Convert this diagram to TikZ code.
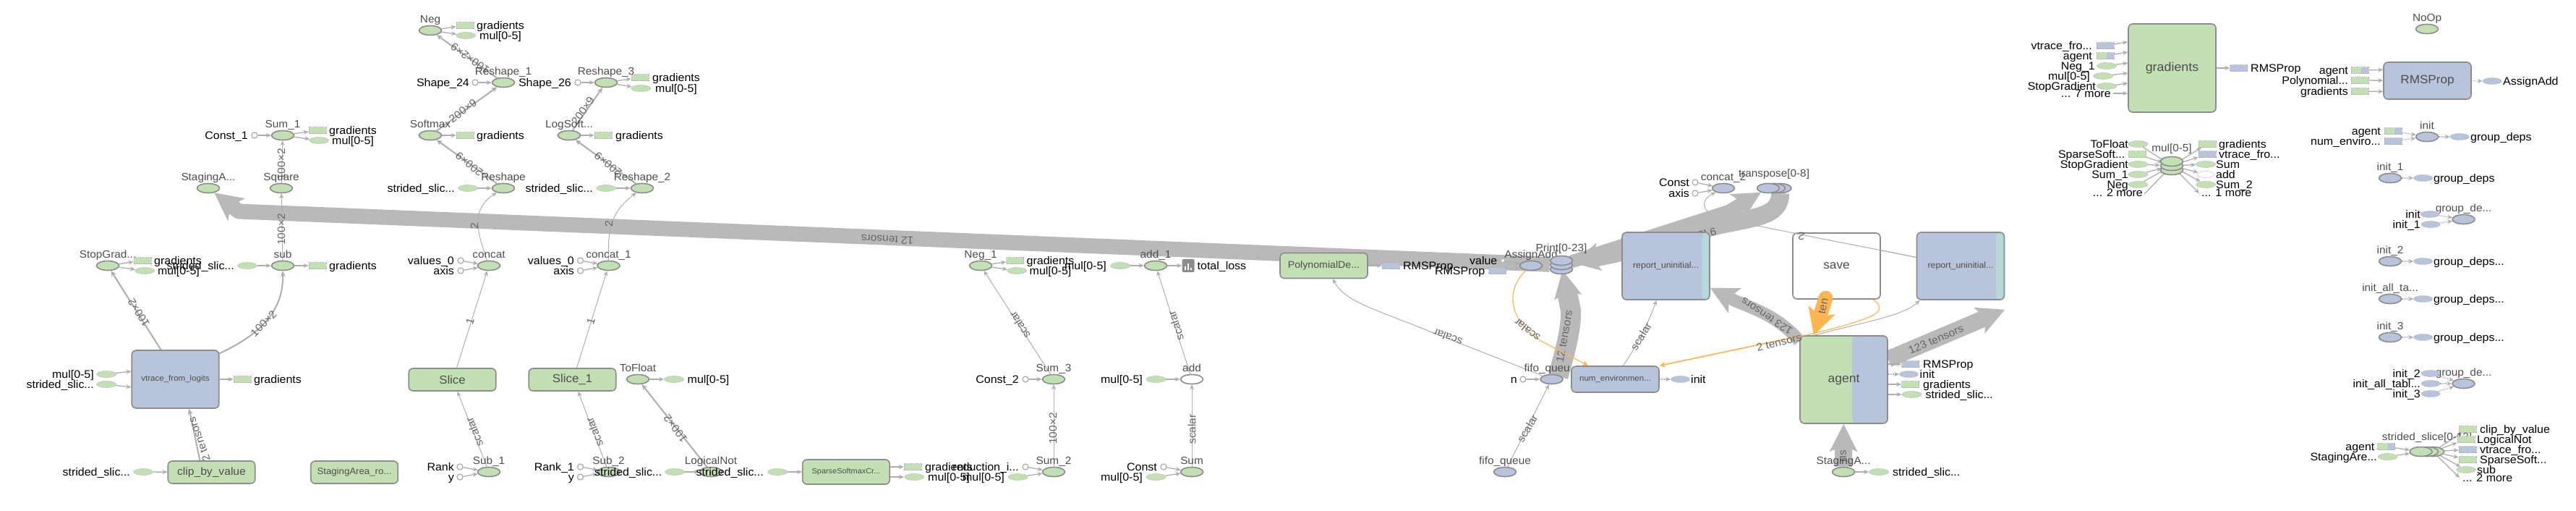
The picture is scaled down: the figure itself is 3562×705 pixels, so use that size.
\documentclass[tikz,border=0pt]{standalone}
\usepackage{fontspec}
\setmainfont[FakeStretch=1.05]{Liberation Sans}
\usetikzlibrary{arrows.meta,shapes.geometric,calc}
\definecolor{opgreen}{HTML}{C2E0B4}
\definecolor{opblue}{HTML}{B8C3DC}
\definecolor{opteal}{HTML}{B7D8D6}
\definecolor{opline}{HTML}{8C8C8C}
\definecolor{flowgray}{HTML}{AEAEAE}
\definecolor{bandgray}{HTML}{B9B9B9}
\definecolor{refedge}{HTML}{FFB652}
\definecolor{optext}{HTML}{4D4D4D}
\definecolor{edgetext}{HTML}{666666}
\pgfdeclarelayer{edges}
\pgfsetlayers{edges,main}
\tikzset{
    px font/.style={font=\fontsize{#1pt}{#1pt}\selectfont},
    op base/.style={ellipse, draw=opline, line width=1.6pt, inner sep=0pt, minimum width=31pt, minimum height=13pt},
    op green/.style={op base, fill=opgreen},
    op blue/.style={op base, fill=opblue},
    op white/.style={op base, fill=white},
    op text/.style={anchor=base, inner sep=0pt, text=optext, px font=14.6},
    ann text/.style={inner sep=0pt, text=black, px font=15.2},
    edge text/.style={inner sep=0pt, text=edgetext, px font=14.8},
    ann ell/.style={ellipse, draw=flowgray, densely dotted, line width=.8pt, fill=opgreen, inner sep=0pt, minimum width=27pt, minimum height=9pt},
    ann blue ell/.style={ann ell, fill=opblue, minimum width=26pt},
    ann white ell/.style={ann ell, fill=white, minimum width=24pt},
    ann rect/.style={rectangle, draw=flowgray, densely dotted, line width=.8pt, fill=opgreen, inner sep=0pt, minimum width=24pt, minimum height=9pt},
    ann blue rect/.style={ann rect, fill=opblue},
    ann half rect/.style={ann rect, strip={opblue}{10pt}},
    const dot/.style={circle, draw=flowgray, line width=1.3pt, fill=white, inner sep=0pt, minimum size=8pt},
    meta box/.style 2 args={rectangle, rounded corners=6pt, draw=opline, line width=1.6pt, inner sep=0pt, text=optext, minimum width=#1pt, minimum height=#2pt},
    strip/.style 2 args={path picture={\fill[#1]([xshift=-#2]path picture bounding box.north east)rectangle(path picture bounding box.south east);}},
    flow/.style={draw=flowgray, line width=1pt, ->, >={Stealth[length=7pt,width=6pt]}},
    flow mid/.style={flow, line width=2pt, >={Stealth[length=8pt,width=7pt]}},
    flow ann/.style={flow, line width=1.3pt},
    flow dot/.style={flow, line width=1.2pt, densely dotted, >={Stealth[length=7pt,width=6pt]}},
    band/.style={draw=bandgray, line width=#1, line join=round, -{Stealth[length=38pt,width=38pt,inset=9pt]}},
    ref line/.style={draw=refedge, line width=#1, ->, >={Stealth[length=8pt,width=8pt]}}
}
\newcommand{\OpAt}[5][op green]{%
\node[#1](#2)at(#3,#4){};
\node[op text](#2 t)at(#3,#4-11){#5};
}
\newcommand{\AnnOut}[6][ann ell]{%
\node[#1](#2)at(#3,#4){};
\node[ann text,anchor=base west](#2 t)at(#5,#4+5){#6};
}
\newcommand{\AnnIn}[6][ann ell]{%
\node[#1](#2)at(#3,#4){};
\node[ann text,anchor=base east](#2 t)at(#5,#4+5){#6};
}
\newcommand{\EdgeText}[5]{%
\node[edge text,rotate=#4](#1)at(#2,#3){#5};
}
\begin{document}
\begin{tikzpicture}[x=1pt,y=-1pt]
    \useasboundingbox(0,0)rectangle(3562,705);

    % upper left column
    \OpAt{neg}{595}{42}{Neg}
    \AnnOut[ann rect]{negG}{643}{35}{659}{gradients}
    \AnnOut{negM}{644}{49}{663}{mul[0-5]}
    \OpAt{reshapeA}{696}{114}{Reshape\_1}
    \AnnIn[const dot]{shapeA}{657}{114}{649}{Shape\_24}
    \OpAt{reshapeC}{838}{114}{Reshape\_3}
    \AnnIn[const dot]{shapeC}{799}{114}{790}{Shape\_26}
    \AnnOut[ann rect]{reshCG}{885}{107}{902}{gradients}
    \AnnOut{reshCM}{886}{122}{906}{mul[0-5]}
    \OpAt{softmax}{595}{187}{Softmax}
    \AnnOut[ann rect]{softG}{643}{187}{659}{gradients}
    \OpAt{logsoft}{787}{187}{LogSoft...}
    \AnnOut[ann rect]{logG}{834}{187}{851}{gradients}
    \OpAt{sumB}{391}{187}{Sum\_1}
    \AnnIn[const dot]{constB}{352}{187}{343}{Const\_1}
    \AnnOut[ann rect]{sumBG}{439}{180}{455}{gradients}
    \AnnOut{sumBM}{441}{194}{459}{mul[0-5]}
    \OpAt{stagingA}{288}{260}{StagingA...}
    \OpAt{square}{389}{260}{Square}
    \OpAt{reshapeZ}{696}{260}{Reshape}
    \AnnIn{reshZS}{647}{260}{629}{strided\_slic...}
    \OpAt{reshapeB}{888}{260}{Reshape\_2}
    \AnnIn{reshBS}{838}{260}{820}{strided\_slic...}

    % middle row
    \OpAt{stopgrad}{149}{367}{StopGrad...}
    \AnnOut[ann rect]{stopG}{197}{360}{213}{gradients}
    \AnnOut{stopM}{200}{374}{218}{mul[0-5]}
    \OpAt{sub}{391}{367}{sub}
    \AnnIn{subS}{342}{367}{324}{strided\_slic...}
    \AnnOut[ann rect]{subG}{439}{367}{455}{gradients}
    \OpAt{concatZ}{676}{367}{concat}
    \AnnIn[const dot]{valZ}{637}{360}{628}{values\_0}
    \AnnIn[const dot]{axisZ}{637}{374}{628}{axis}
    \OpAt{concatA}{841.5}{367}{concat\_1}
    \AnnIn[const dot]{valA}{802.5}{360}{794}{values\_0}
    \AnnIn[const dot]{axisA}{802.5}{374}{794}{axis}
    \OpAt{negA}{1356}{367}{Neg\_1}
    \AnnOut[ann rect]{negAG}{1403.5}{360}{1419.5}{gradients}
    \AnnOut{negAM}{1406}{374}{1423.5}{mul[0-5]}
    \OpAt{addA}{1598}{367}{add\_1}
    \AnnIn{addAM}{1549}{367}{1530}{mul[0-5]}
    \node[rectangle,rounded corners=2pt,fill=opline,minimum width=17pt,minimum height=18pt,inner sep=0pt](lossIcon)at(1643,367){};
    \foreach \barx/\barh in {-4/5,0/9,4/3}
        \fill[white]($(lossIcon)+(\barx-1,6)$)rectangle($(lossIcon)+(\barx+1,6-\barh)$);
    \node[ann text,anchor=base west](lossIcon t)at(1655.5,372){total\_loss};

    % boxes of the left half
    \node[meta box={120.5}{80},fill=opblue,px font=11](vtrace)at(242.5,524){vtrace\_from\_logits};
    \AnnIn{vtM}{147}{517}{130}{mul[0-5]}
    \AnnIn{vtS}{147}{531}{130}{strided\_slic...}
    \AnnOut[ann rect]{vtG}{335}{524}{351}{gradients}
    \node[meta box={120.5}{31},fill=opgreen,px font=14.9](clip)at(292.5,652.5){clip\_by\_value};
    \AnnIn{clipS}{198}{652}{180}{strided\_slic...}
    \node[meta box={120.5}{31},fill=opgreen,px font=12.6](stagingRo)at(490,652.5){StagingArea\_ro...};
    \node[meta box={120.5}{31},fill=opgreen,px font=16](slice)at(625.5,524.5){Slice};
    \node[meta box={120.5}{31},fill=opgreen,px font=16](sliceA)at(791.5,524.5){Slice\_1};
    \OpAt{tofloat}{882}{524}{ToFloat}
    \AnnOut{tofloatM}{932}{524}{950.5}{mul[0-5]}
    \OpAt{subB}{676}{652}{Sub\_1}
    \AnnIn[const dot]{rankZ}{636}{645}{628}{Rank}
    \AnnIn[const dot]{yZ}{636}{659}{628}{y}
    \OpAt{subC}{841.5}{652}{Sub\_2}
    \AnnIn[const dot]{rankA}{802.5}{645}{794}{Rank\_1}
    \AnnIn[const dot]{yA}{802.5}{659}{794}{y}
    \OpAt{lognot}{983}{652}{LogicalNot}
    \AnnIn{lognotS}{933}{652}{915.5}{strided\_slic...}
    \AnnIn{sparseS}{1075}{652}{1056}{strided\_slic...}
    \node[meta box={120.5}{34},fill=opgreen,px font=10.4](sparse)at(1170,652){SparseSoftmaxCr...};
    \AnnOut[ann rect]{sparseG}{1262}{645}{1279}{gradients}
    \AnnOut{sparseM}{1264}{659}{1283}{mul[0-5]}
    \OpAt{sumC}{1457}{652}{Sum\_2}
    \AnnIn[const dot]{reduct}{1418}{645}{1409}{reduction\_i...}
    \AnnIn{sumCM}{1407.5}{659}{1389}{mul[0-5]}
    \OpAt{sumZ}{1648}{652}{Sum}
    \AnnIn[const dot]{constZ}{1609}{645}{1600}{Const}
    \AnnIn{sumZM}{1598.5}{659}{1580}{mul[0-5]}
    \OpAt{sumD}{1457}{524}{Sum\_3}
    \AnnIn[const dot]{constC}{1418}{524}{1409}{Const\_2}
    \OpAt[op white]{addZ}{1648}{524}{add}
    \AnnIn{addZM}{1598.5}{524}{1580}{mul[0-5]}

    % middle of the picture
    \node[meta box={121}{35},fill=opgreen,px font=13.5](poly)at(1830.5,367){PolynomialDe...};
    \AnnOut[ann blue rect]{polyR}{1923}{367}{1940}{RMSProp}
    \AnnIn[const dot,minimum size=5pt,line width=.6pt]{valueC}{2078}{360}{2070.5}{value}
    \OpAt[op blue]{assign}{2117}{367}{AssignAdd}
    \AnnIn[ann blue rect]{assignR}{2070.5}{374}{2053.5}{RMSProp}
    \node[op blue](printC)at(2159,372){};
    \node[op blue](printS)at(2159,366){};
    \node[op blue](printA)at(2159,360){};
    \node[op text](printS t)at(2159,347){Print[0-23]};
    \OpAt[op blue]{fifoQ}{2145.5}{524}{fifo\_queu...}
    \AnnIn[const dot]{nConst}{2106}{524}{2098}{n}
    \OpAt[op blue]{fifoZ}{2081}{652}{fifo\_queue}
    \node[meta box={121}{36},fill=opblue,px font=11](num)at(2233.5,524){num\_environmen...};
    \AnnOut[ann blue ell]{numI}{2323.5}{524}{2338}{init}
    \node[meta box={121}{93},fill=opblue,strip={opteal}{10.5pt},px font=11.7](reportA)at(2303.5,367.5){report\_uninitial...};
    \node[meta box={121}{93},fill=opblue,strip={opteal}{11.5pt},px font=11.7](reportB)at(2711,367.5){report\_uninitial...};
    \node[meta box={121}{91},fill=white,px font=16.4](save)at(2539.5,367.5){save};
    \node[meta box={121}{121},fill=opgreen,strip={opblue}{49pt},px font=16.7](agent)at(2549.5,524.5){agent};
    \OpAt[op blue]{concatB}{2383}{260}{concat\_2}
    \AnnIn[const dot]{constD}{2344}{252}{2336}{Const}
    \AnnIn[const dot]{axisB}{2344}{267}{2336}{axis}
    \node[op blue](transC)at(2461.5,260){};
    \node[op blue](transB)at(2453,260){};
    \node[op blue](transA)at(2445,260){};
    \node[op text](transA t)at(2453,244){transpose[0-8]};
    \OpAt{stagingB}{2549}{652}{StagingA...}
    \AnnOut{stagingS}{2598}{652}{2617}{strided\_slic...}
    \AnnOut[ann blue rect]{agentR}{2641.5}{503}{2659}{RMSProp}
    \AnnOut[ann blue ell]{agentI}{2639.5}{517}{2654.5}{init}
    \AnnOut[ann rect]{agentG}{2641.5}{531}{2659}{gradients}
    \AnnOut{agentS}{2643.5}{545}{2662.5}{strided\_slic...}

    % auxiliary column
    \node[meta box={121}{122},fill=opgreen,px font=17](gradBox)at(3003.5,94){gradients};
    \AnnIn[ann blue rect]{gradV}{2911}{63}{2893}{vtrace\_fro...}
    \AnnIn[ann half rect]{gradA}{2911}{77}{2893}{agent}
    \AnnIn{gradN}{2913}{91}{2897}{Neg\_1}
    \AnnIn{gradM}{2908}{105}{2890}{mul[0-5]}
    \AnnIn{gradS}{2913}{119}{2898}{StopGradient}
    \node[ann text,anchor=base east](gradMore)at(2919,134){... 7 more};
    \coordinate(gradMoreC)at(2922,129);
    \AnnOut[ann blue rect]{gradR}{3095.5}{94}{3112}{RMSProp}
    \node[meta box={121}{51},fill=opblue,px font=16.3](rmsBox)at(3356.5,111.5){RMSProp};
    \AnnIn[ann half rect]{rmsA}{3263}{97}{3247}{agent}
    \AnnIn[ann rect]{rmsP}{3263}{111}{3247}{Polynomial...}
    \AnnIn[ann rect]{rmsG}{3263}{126}{3247}{gradients}
    \AnnOut[ann blue ell]{rmsO}{3446}{112}{3461}{AssignAdd}
    \OpAt{noop}{3356}{40}{NoOp}
    \OpAt[op blue]{initZ}{3356}{189}{init}
    \AnnIn[ann half rect]{initA}{3309}{181}{3292}{agent}
    \AnnIn[ann blue rect]{initN}{3309}{195}{3292}{num\_enviro...}
    \AnnOut[ann blue ell]{initG}{3401}{189}{3416}{group\_deps}
    \OpAt[op blue]{initB}{3305}{246}{init\_1}
    \AnnOut[ann blue ell]{initBG}{3350.5}{246}{3365}{group\_deps}
    \OpAt[op blue]{groupA}{3406.5}{303}{group\_de...}
    \AnnIn[ann blue ell]{groupAI}{3360}{296}{3347}{init}
    \AnnIn[ann blue ell]{groupAJ}{3361}{310}{3347}{init\_1}
    \OpAt[op blue]{initC}{3305}{361}{init\_2}
    \AnnOut[ann blue ell]{initCG}{3350.5}{361}{3365}{group\_deps...}
    \OpAt[op blue]{initT}{3305}{413}{init\_all\_ta...}
    \AnnOut[ann blue ell]{initTG}{3350.5}{413}{3365}{group\_deps...}
    \OpAt[op blue]{initD}{3305}{466}{init\_3}
    \AnnOut[ann blue ell]{initDG}{3350.5}{466}{3365}{group\_deps...}
    \OpAt[op blue]{groupB}{3406.5}{530}{group\_de...}
    \AnnIn[ann blue ell]{groupBI}{3361}{516}{3347}{init\_2}
    \AnnIn[ann blue ell]{groupBT}{3361}{530}{3347}{init\_all\_tabl...}
    \AnnIn[ann blue ell]{groupBJ}{3361}{544}{3347}{init\_3}

    % mul cluster
    \node[op green](mulC)at(3003,235){};
    \node[op green](mulS)at(3003,229){};
    \node[op green](mulA)at(3003,223){};
    \node[op text](mulS t)at(3003,209){mul[0-5]};
    \AnnIn{mulT}{2956.5}{199}{2943}{ToFloat}
    \AnnIn[ann rect]{mulP}{2955.5}{213}{2938.5}{SparseSoft...}
    \AnnIn{mulO}{2956.5}{227}{2943}{StopGradient}
    \AnnIn{mulU}{2956.5}{241}{2943}{Sum\_1}
    \AnnIn{mulN}{2956.5}{255}{2943}{Neg}
    \node[ann text,anchor=base east](mulMoreL)at(2963,271){... 2 more};
    \coordinate(mulMoreLC)at(2965,268);
    \AnnOut[ann rect]{mulG}{3052}{199}{3068}{gradients}
    \AnnOut[ann blue rect]{mulV}{3052}{213}{3068}{vtrace\_fro...}
    \AnnOut{mulS2}{3050}{227}{3064}{Sum}
    \AnnOut[ann white ell]{mulD}{3050}{241}{3064}{add}
    \AnnOut{mulW}{3050}{255}{3064}{Sum\_2}
    \node[ann text,anchor=base west](mulMoreR)at(3044,271){... 1 more};
    \coordinate(mulMoreRC)at(3041,267);

    % strided slice cluster
    \node[op green](sliceC)at(3364,624){};
    \node[op green](sliceB)at(3356,624){};
    \node[op green](sliceF)at(3347.5,624){};
    \node[op text](sliceF t)at(3356,608){strided\_slice[0-12]};
    \AnnIn[ann half rect]{sliceI}{3299.5}{617}{3283.5}{agent}
    \AnnIn{sliceJ}{3301.5}{631}{3287}{StagingAre...}
    \AnnOut[ann rect]{sliceP}{3412}{593}{3429}{clip\_by\_value}
    \AnnOut[ann rect]{sliceQ}{3410}{607}{3425}{LogicalNot}
    \AnnOut[ann blue rect]{sliceR}{3412}{621}{3429}{vtrace\_fro...}
    \AnnOut[ann rect]{sliceT}{3412}{635}{3429}{SparseSoft...}
    \AnnOut{sliceU}{3410}{649}{3425}{sub}
    \node[ann text,anchor=base west](sliceMore)at(3405,665){... 2 more};
    \coordinate(sliceMoreC)at(3401,660);

    \begin{pgfonlayer}{edges}
        % this one goes under the wide edges
        \draw[flow]([yshift=12pt]reportB.west)--(2430,312)--(2372,299)
            .. controls (2352,290) and (2352,276) ..(concatB);

        % wide edges
        \draw[band=21pt](printS)--(330,292)--(stagingA);
        \draw[band=18pt](printS)--(2390,292)--(transA);
        \draw[band=25pt]
            (transC).. controls (2462,302) and (2420,300) ..(2365,314)--(2235,350)--(printS);
        \draw[band=17pt]([yshift=-8pt]agent.north west)
            .. controls (2462,440) and (2430,428) ..(2400,416)--([yshift=17pt]reportA.south east);
        \draw[band=23pt]([yshift=-33pt]agent.north east)--([yshift=-13pt]reportB.south east);
        \draw[band=24pt](stagingB)--(agent);
        \draw[band=28pt]([shift={(9pt,4pt)}]fifoQ.center)
            .. controls (2166,480) and (2173,450) ..(2172,429)--(printS);
        \EdgeText{bandTwelve}{1227}{331}{177.7}{12 tensors}
        \EdgeText{bandNine}{2342}{327}{194}{9 tensors}
        \EdgeText{bandAgentA}{2443}{437}{147}{123 tensors}
        \EdgeText{bandAgentB}{2677}{469}{23}{123 tensors}
        \EdgeText{bandFifo}{2163}{465}{80}{12 tensors}
        \EdgeText{bandStaging}{2549}{630}{90}{ns}

        % thin edges of the left half
        \draw[flow mid](reshapeA)--(neg);
        \EdgeText{eNeg}{650}{81}{144}{100×2×9}
        \draw[flow mid](softmax)--(reshapeA);
        \EdgeText{eSoft}{640}{153}{37}{200×9}
        \draw[flow mid](reshapeZ)--(softmax);
        \EdgeText{eResh}{649}{227}{141}{200×9}
        \draw[flow mid](logsoft)--(reshapeC);
        \EdgeText{eLog}{806}{153}{55}{200×9}
        \draw[flow mid](reshapeB)--(logsoft);
        \EdgeText{eReshB}{841}{227}{141}{200×9}
        \draw[flow](concatZ).. controls (660,320) and (650,290) ..(reshapeZ);
        \EdgeText{eConZ}{656}{312}{90}{2}
        \draw[flow](concatA).. controls (841,320) and (842,295) ..(reshapeB);
        \EdgeText{eConA}{842}{309}{90}{2}
        \draw[flow](sub)--(square);
        \EdgeText{eSub}{389}{317}{90}{100×2}
        \draw[flow](square)--(sumB);
        \EdgeText{eSquare}{389}{227}{90}{100×2}
        \draw[flow mid]([xshift=41pt]vtrace.north west)--(stopgrad);
        \EdgeText{eStop}{192}{432}{121.5}{100×2}
        \draw[flow mid]([yshift=-5pt]vtrace.north east)
            .. controls (360,462) and (392,430) ..(sub);
        \EdgeText{eVsub}{364.5}{447}{45}{100×2}
        \draw[flow mid]([xshift=45pt]clip.north west)--([xshift=19pt]vtrace.south);
        \EdgeText{eClip}{275.5}{607}{110}{2 tensors}
        \draw[flow]([xshift=6pt]slice.north)--(concatZ);
        \EdgeText{eSlice}{650}{444}{73}{1}
        \draw[flow]([xshift=6pt]sliceA.north)--(concatA);
        \EdgeText{eSliceA}{817}{444}{73}{1}
        \draw[flow](subB)--([xshift=7pt]slice.south);
        \EdgeText{eSubB}{656}{597}{112}{scalar}
        \draw[flow](subC)--([xshift=8pt]sliceA.south);
        \EdgeText{eSubC}{822}{597}{112}{scalar}
        \draw[flow mid](lognot)--(tofloat);
        \EdgeText{eLogic}{934}{592}{127}{100×2}
        \draw[flow](sumC)--(sumD);
        \EdgeText{eSumC}{1456}{592}{90}{100×2}
        \draw[flow](sumD)--(negA);
        \EdgeText{eSumD}{1410}{449}{122}{scalar}
        \draw[flow](sumZ)--(addZ);
        \EdgeText{eSumZ}{1648}{593}{90}{scalar}
        \draw[flow](addZ)--(addA);
        \EdgeText{eAddZ}{1626}{450}{108}{scalar}

        % thin edges of the middle
        \draw[flow](fifoQ)--(1982,460)
            .. controls (1905,428) and (1860,418) ..([xshift=12.5pt]poly.south);
        \EdgeText{ePoly}{2002}{466}{160}{scalar}
        \draw[flow](fifoZ)--(fifoQ);
        \EdgeText{eFifo}{2112}{592}{59}{scalar}
        \draw[flow]([xshift=11pt]num.north).. controls (2262,480) and (2280,445) ..([xshift=-13pt]reportA.south);
        \EdgeText{eNum}{2269}{465}{58}{scalar}
        \draw[flow]([xshift=-40pt]agent.north)
            .. controls (2570,446) and (2630,438) ..([xshift=5pt]reportB.south west);

        % short edges next to the ops
        \foreach \fromNode/\toNode in {neg/negG,neg/negM,reshapeC/reshCG,reshapeC/reshCM,softmax/softG,logsoft/logG,
            sumB/sumBG,sumB/sumBM,reshZS/reshapeZ,reshBS/reshapeB,shapeA/reshapeA,shapeC/reshapeC,constB/sumB,
            stopgrad/stopG,stopgrad/stopM,subS/sub,sub/subG,valZ/concatZ,axisZ/concatZ,valA/concatA,axisA/concatA,
            negA/negAG,negA/negAM,addAM/addA,addA/lossIcon,clipS/clip,tofloat/tofloatM,rankZ/subB,yZ/subB,rankA/subC,yA/subC,
            lognotS/lognot,sparseS/sparse,reduct/sumC,sumCM/sumC,constZ/sumZ,sumZM/sumZ,constC/sumD,addZM/addZ,
            poly/polyR,nConst/fifoQ,valueC/assign,constD/concatB,axisB/concatB,stagingB/stagingS,
            sliceI/sliceF,sliceJ/sliceF,mulT/mulS,mulP/mulS,mulO/mulS,mulU/mulS,mulN/mulS,mulMoreLC/mulS,
            mulS/mulG,mulS/mulV,mulS/mulS2,mulS/mulD,mulS/mulW,mulS/mulMoreRC,
            sliceC/sliceP,sliceC/sliceQ,sliceC/sliceR,sliceC/sliceT,sliceC/sliceU,sliceC/sliceMoreC}
            \draw[flow ann](\fromNode)--(\toNode);
        \draw[flow ann](vtM)--([yshift=11pt]vtrace.west);
        \draw[flow ann](vtS)--([yshift=-11pt]vtrace.west);
        \draw[flow ann](vtrace)--(vtG);
        \draw[flow ann](sparse.east|-sparseG)--(sparseG);
        \draw[flow ann](sparse.east|-sparseM)--(sparseM);
        \draw[flow ann](agent.east|-agentR)--(agentR);
        \draw[flow ann](agent.east|-agentG)--(agentG);
        \draw[flow ann](agent.east|-agentS)--(agentS);
        \draw[flow dot](agent.east|-agentI)--(agentI);
        \draw[flow dot](num)--(numI);
        \draw[flow dot](assignR)--(assign);
        \draw[flow ann](gradV)--([yshift=36pt]gradBox.west);
        \draw[flow ann](gradA)--([yshift=22pt]gradBox.west);
        \draw[flow ann](gradN)--([yshift=7pt]gradBox.west);
        \draw[flow ann](gradM)--([yshift=-7pt]gradBox.west);
        \draw[flow ann](gradS)--([yshift=-21pt]gradBox.west);
        \draw[flow ann](gradMoreC)--([yshift=-35pt]gradBox.west);
        \draw[flow ann](gradBox)--(gradR);
        \draw[flow ann](rmsA)--([yshift=15pt]rmsBox.west);
        \draw[flow ann](rmsP)--(rmsBox);
        \draw[flow ann](rmsG)--([yshift=-15pt]rmsBox.west);
        \draw[flow dot](rmsBox)--(rmsO);
        \foreach \fromNode/\toNode in {initA/initZ,initN/initZ,initZ/initG,groupAI/groupA,groupAJ/groupA,
            initC/initCG,initT/initTG,initD/initDG,groupBI/groupB,groupBT/groupB,groupBJ/groupB,initB/initBG}
            \draw[flow dot](\fromNode)--(\toNode);
    \end{pgfonlayer}

    % edges over the boxes
    \draw[flow,-]([yshift=12pt]reportB.west)--(2482,322.5);
    \EdgeText{eSave}{2491}{327}{168}{2}
    \draw[ref line=1.2pt](assign).. controls (2082,400) and (2085,440) ..(2129,470)--([xshift=-37.5pt]num.north);
    \EdgeText{eAssign}{2111.5}{456}{141}{scalar}
    \draw[ref line=1.7pt]([xshift=-55pt]agent.north)--(num.north east);
    \EdgeText{eTwo}{2460}{473}{14}{2 tensors}
    \draw[refedge,line width=1.2pt]([xshift=50pt]save.south)
        .. controls (2604,422) and (2602,432) ..(2580,440)
        .. controls (2560,448) and (2520,458) ..([xshift=-53pt]agent.north);
    \draw[refedge,line width=20pt,line cap=round,-{Stealth[length=36pt,width=38pt,inset=8pt]}]
        ([shift={(-15pt,2pt)}]save.south)--([xshift=-41.5pt]agent.north);
    \EdgeText{eTen}{2521}{423}{78}{ten}
\end{tikzpicture}
\end{document}
